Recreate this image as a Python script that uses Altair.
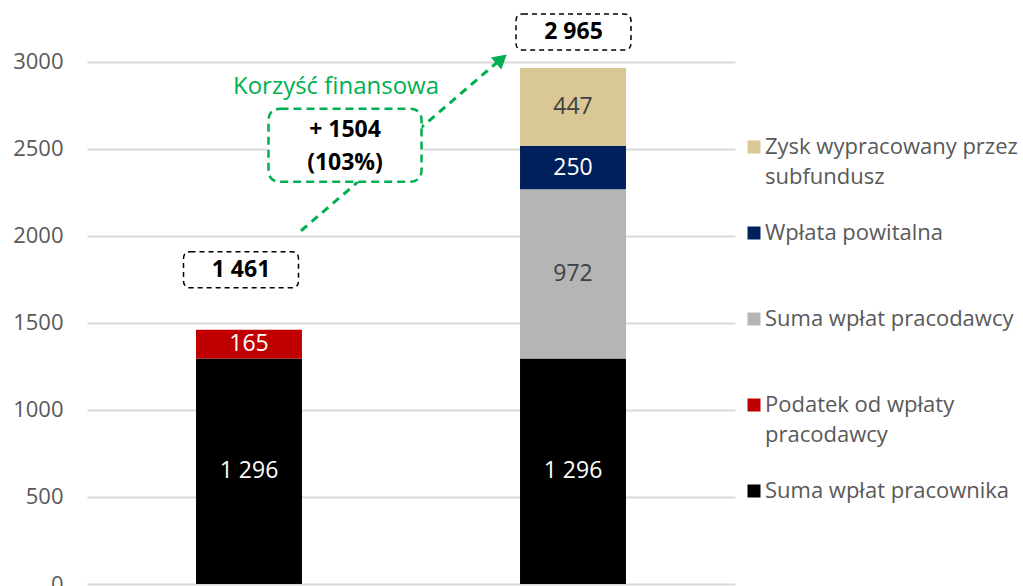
import altair as alt
import pandas as pd

# ---------------- data ----------------
categories = ["Bez PPK", "PPK"]
series = [
    "Suma wpłat pracownika",
    "Podatek od wpłaty pracodawcy",
    "Suma wpłat pracodawcy",
    "Wpłata powitalna",
    "Zysk wypracowany przez subfundusz",
]
values_first = [1296, 165, 0, 0, 0]
values_second = [1296, 0, 972, 250, 447]
y_ticks = [0, 500, 1000, 1500, 2000, 2500, 3000]
annotation_title = "Korzyść finansowa"

# ---------------- styles ----------------
colors = ["#000000", "#C00000", "#B5B5B5", "#00205B", "#D9C795"]
dark_label_series = [series[2], series[4]]
GREEN = "#00B050"
FONT = "Open Sans"


def fmt(v):
    return f"{v:,}".replace(",", " ")


rows = []
for cat, vals in zip(categories, [values_first, values_second]):
    base = 0
    for i, (s, v) in enumerate(zip(series, vals)):
        if v > 0:
            rows.append(dict(cat=cat, series=s, order=i, start=base, end=base + v,
                             mid=base + v / 2, label=fmt(v)))
            base += v
bars_df = pd.DataFrame(rows)

totals = [sum(values_first), sum(values_second)]
tot_df = pd.DataFrame({"cat": categories, "total": totals, "label": [fmt(t) for t in totals]})
gain = totals[1] - totals[0]
pct = round(gain / totals[0] * 100)
arrow_df = pd.DataFrame({
    "cat": [categories[0]], "cat2": [categories[1]],
    "v1": [totals[0]], "v2": [totals[1]],
    "gain": [f"+ {gain}"], "pct": [f"({pct}%)"], "title": [annotation_title],
})


def rounded_rect(w, h, r):
    hh = h / w
    rr = 2 * r / w
    a, b = 1 - rr, hh - rr
    return (f"M{-a},{-hh} L{a},{-hh} Q1,{-hh} 1,{-b} L1,{b} Q1,{hh} {a},{hh} "
            f"L{-a},{hh} Q-1,{hh} -1,{b} L-1,{-b} Q-1,{-hh} {-a},{-hh} Z")


x_enc = alt.X("cat:N", sort=categories,
              scale=alt.Scale(domain=categories, paddingInner=0.673, paddingOuter=0.3365),
              axis=None)
y_scale = alt.Scale(domain=[0, 3356], nice=False, zero=True)

label_expr = ("datum.label == 'Zysk wypracowany przez subfundusz' ? ['Zysk wypracowany przez', 'subfundusz'] : "
              "datum.label == 'Podatek od wpłaty pracodawcy' ? ['Podatek od wpłaty', 'pracodawcy'] : datum.label")

bars = alt.Chart(bars_df).mark_bar().encode(
    x=x_enc,
    y=alt.Y("start:Q", scale=y_scale,
            axis=alt.Axis(values=y_ticks, format="d", grid=True, gridColor="#D9D9D9", gridWidth=2,
                          domain=False, ticks=False, labelFontSize=22, labelColor="#595959",
                          labelPadding=24, title=None, labelFont=FONT)),
    y2="end:Q",
    color=alt.Color("series:N", sort=series[::-1],
                    scale=alt.Scale(domain=series[::-1], range=colors[::-1]),
                    legend=alt.Legend(orient="none", legendX=656, legendY=136, title=None,
                                      symbolType="square", symbolSize=169, symbolStrokeWidth=0,
                                      labelFontSize=22, labelColor="#595959", labelFont=FONT,
                                      labelOffset=0, rowPadding=34, gridAlign="all",
                                      labelLimit=400, labelExpr=label_expr, padding=0)),
)

bar_text = alt.Chart(bars_df).mark_text(fontSize=23, font=FONT).encode(
    x=x_enc,
    y=alt.Y("mid:Q", scale=y_scale),
    text="label:N",
    color=alt.condition(alt.FieldOneOfPredicate(field="series", oneOf=dark_label_series),
                        alt.value("#404040"), alt.value("white")),
)

box_path = rounded_rect(115, 36, 7)
green_path = rounded_rect(153, 73, 12)

tot_layers = []
for cat, dx, dy in [(categories[0], -8, -60), (categories[1], 0.5, -36)]:
    base = alt.Chart(tot_df).transform_filter(alt.datum.cat == cat)
    tot_layers.append(base.mark_point(shape=box_path, size=115 ** 2, filled=False, color="black",
                                      strokeWidth=1.5, strokeDash=[5, 4], opacity=1,
                                      xOffset=dx, yOffset=dy).encode(
        x=x_enc, y=alt.Y("total:Q", scale=y_scale)))
    tot_layers.append(base.mark_text(fontSize=23, fontWeight="bold", font=FONT, color="black",
                                     xOffset=dx, yOffset=dy).encode(
        x=x_enc, y=alt.Y("total:Q", scale=y_scale), text="label:N"))

arrow_base = alt.Chart(arrow_df)
arrow_line = arrow_base.mark_rule(color=GREEN, strokeWidth=3, strokeDash=[8, 6],
                                  xOffset=52, yOffset=-99, x2Offset=-72, y2Offset=-9).encode(
    x=x_enc, x2="cat2:N", y=alt.Y("v1:Q", scale=y_scale), y2="v2:Q")
arrow_head = arrow_base.mark_point(shape="triangle-up", size=256, filled=True, color=GREEN,
                                   opacity=1, angle=49.5, xOffset=-71.6, yOffset=-9).encode(
    x=alt.X("cat2:N", sort=categories, scale=alt.Scale(domain=categories), axis=None),
    y=alt.Y("v2:Q", scale=y_scale))
green_box = arrow_base.mark_point(shape=green_path, size=153 ** 2, filled=True, fill="white",
                                  stroke=GREEN, strokeWidth=2.5, strokeDash=[8, 5], opacity=1,
                                  xOffset=96, yOffset=-184.5).encode(
    x=x_enc, y=alt.Y("v1:Q", scale=y_scale))
gain_text = arrow_base.mark_text(fontSize=23, fontWeight="bold", font=FONT, color="black",
                                 xOffset=96, yOffset=-200).encode(
    x=x_enc, y=alt.Y("v1:Q", scale=y_scale), text="gain:N")
pct_text = arrow_base.mark_text(fontSize=23, fontWeight="bold", font=FONT, color="black",
                                xOffset=96, yOffset=-167).encode(
    x=x_enc, y=alt.Y("v1:Q", scale=y_scale), text="pct:N")
title_text = arrow_base.mark_text(fontSize=24, font=FONT, color=GREEN,
                                  xOffset=87, yOffset=-243).encode(
    x=x_enc, y=alt.Y("v1:Q", scale=y_scale), text="title:N")

chart = alt.layer(
    bars, bar_text, *tot_layers, arrow_line, arrow_head, green_box, gain_text, pct_text, title_text
).properties(
    width=648, height=584,
    padding={"left": 87, "top": 0, "right": 288, "bottom": 2},
    autosize=alt.AutoSizeParams(type="none"),
).configure(
    font=FONT, style={"guide-label": {"lineHeight": 30}}
).configure_view(stroke=None)

chart.save("out.html", embed_options={"renderer": "svg", "actions": False})
